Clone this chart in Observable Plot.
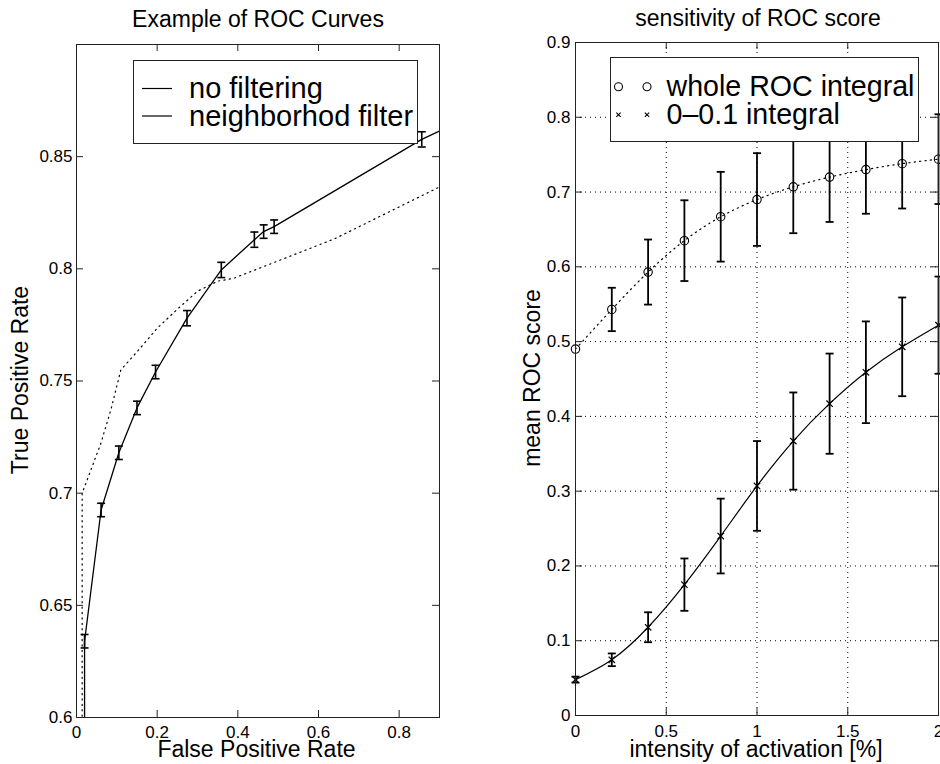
<!DOCTYPE html>
<html><head><meta charset="utf-8">
<script src="https://cdn.jsdelivr.net/npm/d3@7"></script>
<script src="https://cdn.jsdelivr.net/npm/@observablehq/plot@0.6"></script>
<style>
html,body{margin:0;padding:0;background:#fff;overflow:hidden;}
#wrap{position:relative;width:940px;height:764px;font-family:"Liberation Sans",Arial,Helvetica,sans-serif;color:#000;}
.panel{position:absolute;top:0;width:470px;height:764px;}
#overlay{position:absolute;left:0;top:0;pointer-events:none;}
</style></head><body><div id="wrap"><div id="left" class="panel" style="left:0"></div><div id="right" class="panel" style="left:470px"></div></div>
<script>
// ---------- Left panel data: Example of ROC Curves ----------
const noFilterFpr = [0.014, 0.014, 0.035, 0.06, 0.085, 0.11, 0.15, 0.20, 0.25, 0.30, 0.35, 0.39, 0.64, 0.90];
const noFilterTpr = [0.55, 0.700, 0.710, 0.722, 0.737, 0.755, 0.763, 0.7735, 0.782, 0.790, 0.7945, 0.7958, 0.8134, 0.8365];

const neighborFpr = [0.020, 0.020, 0.061, 0.105, 0.150, 0.196, 0.274, 0.359, 0.441, 0.464, 0.490, 0.856, 1.000];
const neighborTpr = [0.550, 0.634, 0.6925, 0.718, 0.738, 0.754, 0.778, 0.7995, 0.813, 0.8166, 0.8188, 0.8577, 0.870];
const neighborErr = [null, 0.003, 0.003, 0.003, 0.003, 0.003, 0.0034, 0.0034, 0.0034, 0.003, 0.003, 0.0034, null];

const leftXTicks = [0, 0.2, 0.4, 0.6, 0.8];
const leftYTicks = [0.6, 0.65, 0.7, 0.75, 0.8, 0.85];

// ---------- Right panel data: sensitivity of ROC score ----------
const intensity = [0, 0.2, 0.4, 0.6, 0.8, 1.0, 1.2, 1.4, 1.6, 1.8, 2.0];
const wholeMean = [0.490, 0.543, 0.593, 0.635, 0.667, 0.690, 0.707, 0.720, 0.730, 0.738, 0.744];
const wholeErr  = [0.000, 0.029, 0.0435, 0.054, 0.060, 0.062, 0.062, 0.060, 0.059, 0.060, 0.060];
const partMean  = [0.048, 0.0745, 0.118, 0.175, 0.240, 0.307, 0.367, 0.417, 0.459, 0.493, 0.522];
const partErr   = [0.004, 0.0085, 0.020, 0.035, 0.050, 0.060, 0.065, 0.067, 0.068, 0.066, 0.065];

const rightXTicks = [0, 0.5, 1, 1.5, 2];
const rightYTicks = [0, 0.1, 0.2, 0.3, 0.4, 0.5, 0.6, 0.7, 0.8, 0.9];

// ---------- build tables ----------
const noFilter = noFilterFpr.map((x, i) => ({x, y: noFilterTpr[i]}));
const neighbor = neighborFpr.map((x, i) => ({x, y: neighborTpr[i], e: neighborErr[i]}));
const neighborBars = neighbor.filter(d => d.e != null);
const whole = intensity.map((x, i) => ({x, y: wholeMean[i], e: wholeErr[i]}));
const part = intensity.map((x, i) => ({x, y: partMean[i], e: partErr[i]}));

const FONT = '"Liberation Sans", Arial, Helvetica, sans-serif';
const capSymbol = {draw(ctx, size) { const r = Math.sqrt(size / Math.PI); ctx.moveTo(-r, 0); ctx.lineTo(r, 0); }};
const fmt = d => String(d);
const TICK = 7;

function errorMarks(data, sw) {
  const bars = data.filter(d => d.e > 0);
  return [
    Plot.ruleX(bars, {x: "x", y1: d => d.y - d.e, y2: d => d.y + d.e, stroke: "#000", strokeWidth: sw}),
    Plot.dot(bars, {x: "x", y: d => d.y - d.e, symbol: capSymbol, r: 4, fill: "none", stroke: "#000", strokeWidth: sw}),
    Plot.dot(bars, {x: "x", y: d => d.y + d.e, symbol: capSymbol, r: 4, fill: "none", stroke: "#000", strokeWidth: sw})
  ];
}
function inwardTicks(xt, yt, iw, ih) {
  return [
    Plot.ruleX(xt, {x: d => d, insetTop: ih - TICK, stroke: "#222"}),
    Plot.ruleX(xt, {x: d => d, insetBottom: ih - TICK, stroke: "#222"}),
    Plot.ruleY(yt, {y: d => d, insetRight: iw - TICK, stroke: "#222"}),
    Plot.ruleY(yt, {y: d => d, insetLeft: iw - TICK, stroke: "#222"})
  ];
}

// ---------- left plot ----------
const L = {ml: 76, mr: 31, mt: 44, mb: 47};
const leftIW = 470 - L.ml - L.mr, leftIH = 764 - L.mt - L.mb;
const leftPlot = Plot.plot({
  width: 470, height: 764,
  marginLeft: L.ml, marginRight: L.mr, marginTop: L.mt, marginBottom: L.mb,
  x: {domain: [0, 0.9]}, y: {domain: [0.6, 0.9]},
  style: {fontFamily: FONT, background: "transparent", color: "#000"},
  marks: [
    Plot.line(noFilter, {x: "x", y: "y", stroke: "#000", strokeWidth: 1.2, strokeDasharray: "1.2,4.2", clip: true}),
    Plot.line(neighbor, {x: "x", y: "y", stroke: "#000", strokeWidth: 1.3, clip: true}),
    ...errorMarks(neighborBars, 1.6),
    ...inwardTicks(leftXTicks.slice(1), leftYTicks.slice(1), leftIW, leftIH),
    Plot.frame({stroke: "#222"}),
    Plot.axisX({ticks: leftXTicks, tickSize: 0, tickPadding: 8, fontSize: 17, tickFormat: fmt, label: null}),
    Plot.axisY({ticks: leftYTicks, tickSize: 0, tickPadding: 4, fontSize: 17, tickFormat: fmt, label: null})
  ]
});
document.getElementById("left").appendChild(leftPlot);

// ---------- right plot ----------
const R = {ml: 105, mr: 2, mt: 42, mb: 49};
const rightIW = 470 - R.ml - R.mr, rightIH = 764 - R.mt - R.mb;
const gridX = rightXTicks.slice(1, -1), gridY = rightYTicks.slice(1, -1);
const rightPlot = Plot.plot({
  width: 470, height: 764,
  marginLeft: R.ml, marginRight: R.mr, marginTop: R.mt, marginBottom: R.mb,
  x: {domain: [0, 2]}, y: {domain: [0, 0.9]},
  style: {fontFamily: FONT, background: "transparent", color: "#000"},
  marks: [
    Plot.ruleX(gridX, {x: d => d, stroke: "#000", strokeWidth: 1, strokeDasharray: "1,4"}),
    Plot.ruleY(gridY, {y: d => d, stroke: "#000", strokeWidth: 1, strokeDasharray: "1,4"}),
    Plot.line(whole, {x: "x", y: "y", curve: "natural", stroke: "#000", strokeWidth: 1.2, strokeDasharray: "1.2,4.2"}),
    Plot.line(part, {x: "x", y: "y", curve: "natural", stroke: "#000", strokeWidth: 1.2}),
    ...errorMarks(whole, 1.8),
    ...errorMarks(part, 1.8),
    Plot.dot(whole, {x: "x", y: "y", r: 4.2, fill: "none", stroke: "#000", strokeWidth: 1.1}),
    Plot.dot(part, {x: "x", y: "y", r: 3, symbol: "times", fill: "none", stroke: "#000", strokeWidth: 1.2}),
    ...inwardTicks(gridX, gridY, rightIW, rightIH),
    Plot.frame({stroke: "#222"}),
    Plot.axisX({ticks: rightXTicks, tickSize: 0, tickPadding: 9, fontSize: 17, tickFormat: fmt, label: null}),
    Plot.axisY({ticks: rightYTicks, tickSize: 0, tickPadding: 5, fontSize: 17, tickFormat: fmt, label: null})
  ]
});
document.getElementById("right").appendChild(rightPlot);

// ---------- overlay: titles, axis labels, legends ----------
const ov = d3.select("#wrap").append("svg").attr("id", "overlay")
  .attr("width", 940).attr("height", 764)
  .style("font-family", FONT);

function txt(x, y, s, size, anchor = "middle", rot = 0) {
  const t = ov.append("text").attr("font-size", size).attr("text-anchor", anchor).attr("fill", "#000").text(s);
  if (rot) t.attr("transform", `translate(${x},${y}) rotate(${rot})`);
  else t.attr("x", x).attr("y", y);
  return t;
}
txt(258, 27, "Example of ROC Curves", 23);
txt(758, 26, "sensitivity of ROC score", 23);
txt(256.5, 757, "False Positive Rate", 23);
txt(756, 757, "intensity of activation [%]", 23);
txt(28, 380, "True Positive Rate", 23, "middle", -90);
txt(540, 378, "mean ROC score", 23, "middle", -90);

// left legend
ov.append("rect").attr("x", 133.5).attr("y", 60.5).attr("width", 284).attr("height", 83)
  .attr("fill", "#fff").attr("stroke", "#222").attr("stroke-width", 1);
const leftLegend = ["no filtering", "neighborhod filter"];
leftLegend.forEach((s, i) => {
  const cy = 88.5 + i * 27.5;
  ov.append("line").attr("x1", 142).attr("x2", 172).attr("y1", cy).attr("y2", cy).attr("stroke", "#000").attr("stroke-width", 1.2);
  txt(189, cy + 9.5, s, 29, "start");
});

// right legend
ov.append("rect").attr("x", 610.5).attr("y", 57.5).attr("width", 308).attr("height", 84)
  .attr("fill", "#fff").attr("stroke", "#222").attr("stroke-width", 1);
const rightLegend = ["whole ROC integral", "0\u20130.1 integral"];
rightLegend.forEach((s, i) => {
  const cy = 86.7 + i * 28;
  [618.5, 647].forEach(cx => {
    if (i === 0) ov.append("circle").attr("cx", cx).attr("cy", cy).attr("r", 4).attr("fill", "none").attr("stroke", "#000").attr("stroke-width", 1.1);
    else ov.append("path").attr("transform", `translate(${cx},${cy})`).attr("d", d3.symbol(d3.symbolTimes, 14)()).attr("fill", "none").attr("stroke", "#000").attr("stroke-width", 1.1);
  });
  txt(666.5, cy + 9.5, s, 28.6, "start");
});
</script>
</body></html>
